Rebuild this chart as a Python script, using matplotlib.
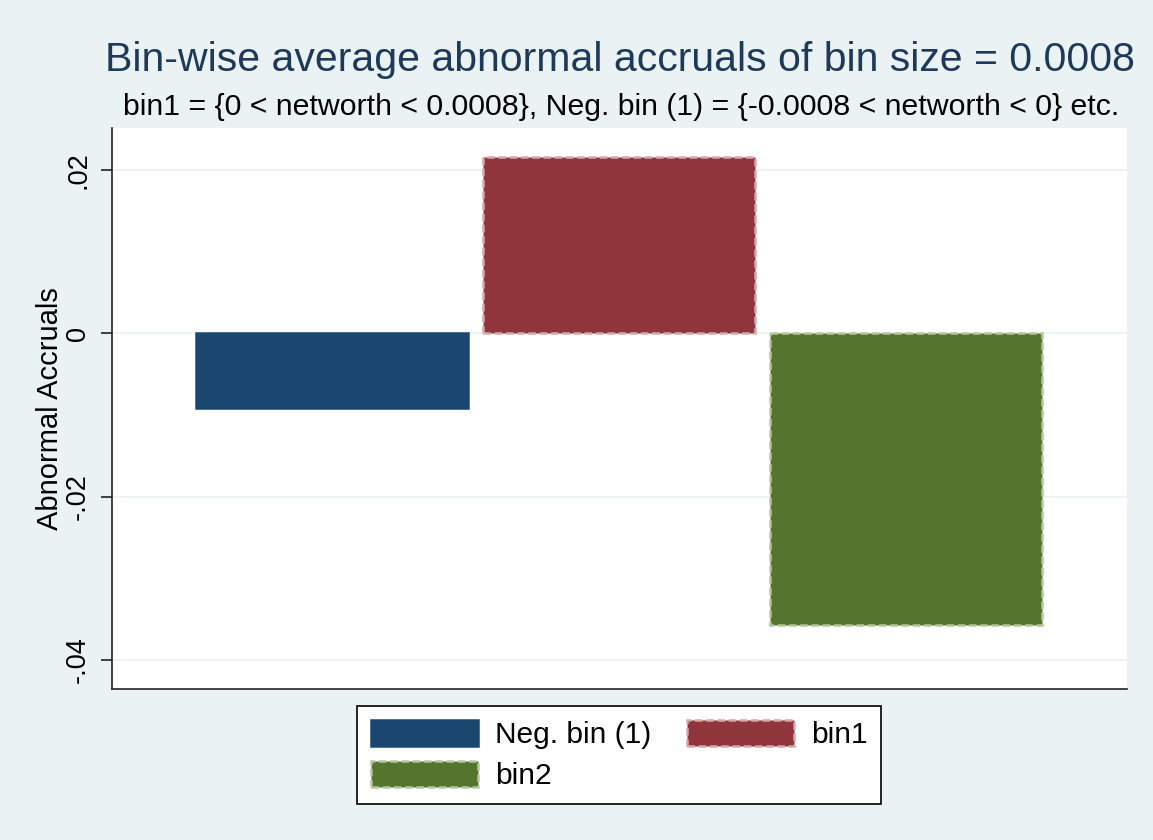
import matplotlib
matplotlib.use("Agg")
import matplotlib.pyplot as plt
from matplotlib.patches import Patch

plt.rcParams['font.family'] = ['Liberation Sans', 'DejaVu Sans']

categories = ["Neg. bin (1)", "bin1", "bin2"]
values = [-0.0091, 0.0216, -0.0357]
positions = [1, 2, 3]
colors = ["#1a476f", "#90353b", "#55752f"]
edgecolors = ["#1a476f", "#d8a5a9", "#b3c79c"]
linestyles = ["solid", (0, (3, 1.5)), (0, (3, 1.5))]
yticks = [-0.04, -0.02, 0, 0.02]
yticklabels = ["-.04", "-.02", "0", ".02"]

bg = "#eaf2f3"
fig = plt.figure(figsize=(11.53, 8.40), dpi=100, facecolor=bg)
ax = fig.add_axes([112/1153, 1-689/840, (1127-112)/1153, (689-128)/840])
ax.set_facecolor("white")

for p, v, c, ec, ls in zip(positions, values, colors, edgecolors, linestyles):
    ax.bar(p, v, width=0.948, color=c, edgecolor=ec, linestyle=ls, linewidth=1.8, zorder=3)

ax.set_xlim(0.233, 3.77)
ax.set_ylim(-0.0436, 0.0252)
ax.set_yticks(yticks)
ax.set_yticklabels(yticklabels, rotation=90, va="center", fontsize=19.5)
ax.set_xticks([])
ax.grid(axis="y", color="#eaf2f3", linewidth=1.2, zorder=0)
for s in ["top", "right"]:
    ax.spines[s].set_visible(False)
for s in ["left", "bottom"]:
    ax.spines[s].set_color("#222222")
    ax.spines[s].set_linewidth(1.2)
ax.tick_params(axis="y", length=8, width=1.2, color="#222222", pad=7)
ax.set_ylabel("Abnormal Accruals", fontsize=21, labelpad=1)

fig.text(620/1153, 1-60/840, "Bin-wise average abnormal accruals of bin size = 0.0008",
         ha="center", va="center", fontsize=29.5, color="#1e3a5a")
fig.text(621/1153, 1-107/840, "bin1 = {0 < networth < 0.0008}, Neg. bin (1) = {-0.0008 < networth < 0} etc.",
         ha="center", va="center", fontsize=21.8, color="black")

handles = [Patch(facecolor=c, edgecolor=ec, linestyle=ls, linewidth=1.8)
           for c, ec, ls in zip(colors, edgecolors, linestyles)]
order = [0, 2, 1]
leg = fig.legend([handles[i] for i in order], [categories[i] for i in order],
                 loc="center", bbox_to_anchor=(619/1153, 1-755/840),
                 ncol=2, fontsize=21.5, handlelength=3.6, handleheight=0.95,
                 frameon=True, fancybox=False, edgecolor="black", framealpha=1,
                 borderpad=0.45, columnspacing=1.2, labelspacing=0.4, handletextpad=0.55,
                 borderaxespad=0)
leg.get_frame().set_linewidth(1.2)

fig.savefig("out.png", dpi=100, facecolor=bg)
